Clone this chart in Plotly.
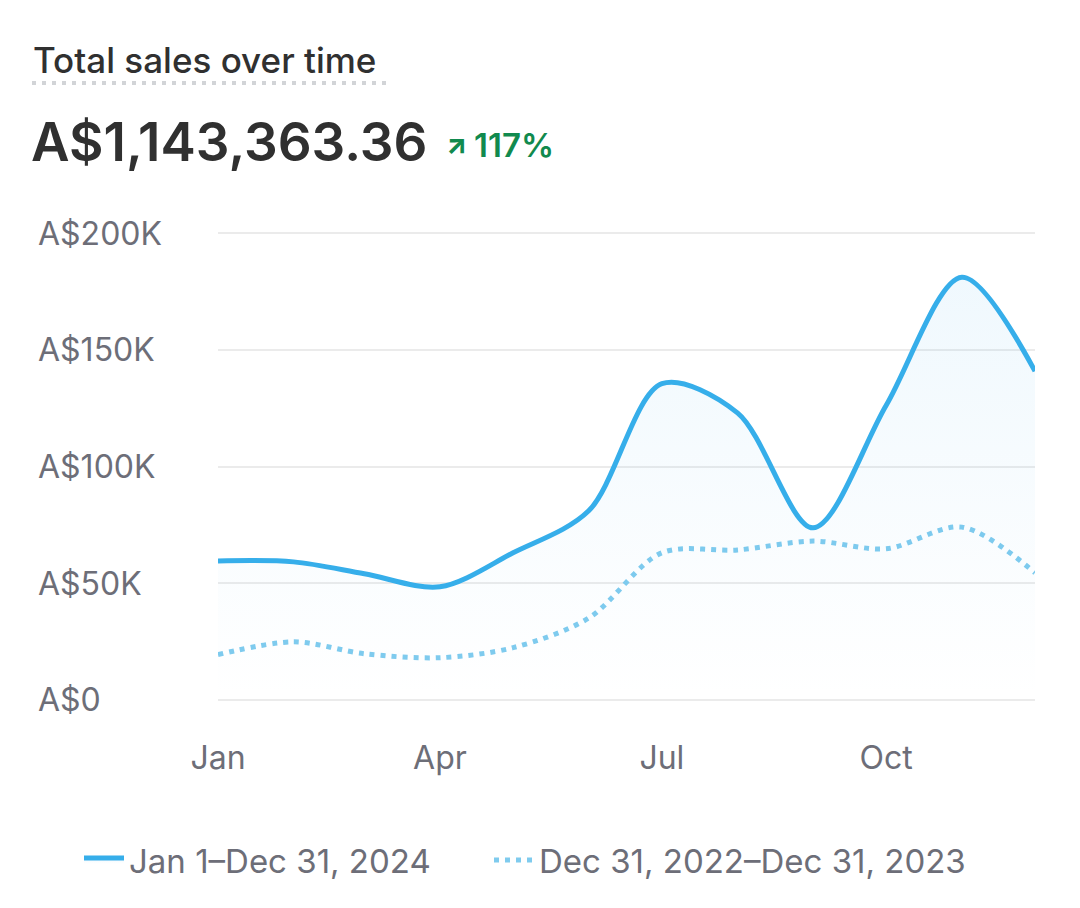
import plotly.graph_objects as go

# ---- data ----
months = ["2024-01-01", "2024-02-01", "2024-03-01", "2024-04-01", "2024-05-01", "2024-06-01",
          "2024-07-01", "2024-08-01", "2024-09-01", "2024-10-01", "2024-11-01", "2024-12-01"]
sales_2024 = [59500, 59100, 54000, 48400, 63000, 81000, 135500, 123000, 73700, 126300, 181200, 140900]
sales_prev = [19300, 24800, 19700, 18000, 22300, 35000, 63000, 64200, 68000, 64700, 74000, 54400]
tick_vals = ["2024-01-01", "2024-04-01", "2024-07-01", "2024-10-01"]
tick_text = ["Jan", "Apr", "Jul", "Oct"]
y_ticks = [0, 50000, 100000, 150000, 200000]
y_text = ["A$0", "A$50K", "A$100K", "A$150K", "A$200K"]
series_names = ["Jan 1–Dec 31, 2024", "Dec 31, 2022–Dec 31, 2023"]
title_text = "Total sales over time"
total_text = "A$1,143,363.36"
change_text = "117%"

W, H = 1080, 908
ML, MR, MT, MB = 218, 45, 231, 206
PW, PH = W - ML - MR, H - MT - MB

def px(x):
    return (x - ML) / PW

def py(y):
    return (H - MB - y) / PH

FONT = "Inter"
GRAY = "#6d6e78"
DARK = "#303030"
GREEN = "#118a4e"

fig = go.Figure()
fig.add_trace(go.Scatter(
    x=months, y=sales_prev, mode="lines", name=series_names[1], legend="legend2",
    line=dict(color="#7fcbee", width=5, dash="5px,6px", shape="spline", smoothing=0.9),
    hoverinfo="skip",
))
fig.add_trace(go.Scatter(
    x=months, y=sales_2024, mode="lines", name=series_names[0], legend="legend",
    line=dict(color="#36aeea", width=5, shape="spline", smoothing=0.9),
    fill="tozeroy",
    fillgradient=dict(type="vertical", start=0, stop=185000,
                      colorscale=[[0, "rgba(60,170,235,0.0)"], [1, "rgba(60,170,235,0.08)"]]),
    hoverinfo="skip",
))

annotations = []
for v, t in zip(y_ticks, y_text):
    annotations.append(dict(text=t, x=px(36), xref="paper", y=v, yref="y",
                            xanchor="left", yanchor="middle", showarrow=False,
                            font=dict(family=FONT, size=32, color=GRAY)))
annotations.append(dict(text=title_text, x=px(31), xref="paper", y=py(60), yref="paper",
                        xanchor="left", yanchor="middle", showarrow=False,
                        font=dict(family=FONT, size=35, color=DARK, weight=500)))
annotations.append(dict(text=total_text, x=px(29), xref="paper", y=py(142), yref="paper",
                        xanchor="left", yanchor="middle", showarrow=False,
                        font=dict(family=FONT, size=53, color=DARK, weight=600)))
annotations.append(dict(text="↗", x=px(444), xref="paper", y=py(144), yref="paper",
                        xanchor="left", yanchor="middle", showarrow=False,
                        font=dict(family=FONT, size=27, color=GREEN, weight=800)))
annotations.append(dict(text=change_text, x=px(472), xref="paper", y=py(145), yref="paper",
                        xanchor="left", yanchor="middle", showarrow=False,
                        font=dict(family=FONT, size=33, color=GREEN, weight=600)))

shapes = [dict(type="line", xref="paper", yref="paper", x0=px(32), x1=px(386), y0=py(83), y1=py(83),
               line=dict(color="#d2d4d7", width=4, dash="4px,6px"))]

legend_common = dict(orientation="h", xref="container", yref="container", y=(H - 860) / H,
                     xanchor="left", yanchor="middle", itemwidth=40,
                     font=dict(family=FONT, size=33, color=GRAY))

fig.update_layout(
    width=W, height=H,
    margin=dict(l=ML, r=MR, t=MT, b=MB, pad=0),
    paper_bgcolor="white", plot_bgcolor="white",
    font=dict(family=FONT, color=GRAY),
    showlegend=True,
    legend=dict(x=79 / W, **legend_common),
    legend2=dict(x=489 / W, **legend_common),
    xaxis=dict(type="date", range=["2024-01-01", "2024-12-01"], tickvals=tick_vals, ticktext=tick_text,
               showgrid=False, zeroline=False, showline=False, ticks="outside", ticklen=28,
               tickcolor="rgba(0,0,0,0)", tickfont=dict(family=FONT, size=32, color=GRAY)),
    yaxis=dict(range=[-1000, 201000], tickvals=y_ticks, showticklabels=False, showgrid=True,
               gridcolor="#ebebeb", gridwidth=2, zeroline=False, showline=False),
    annotations=annotations, shapes=shapes,
)

fig.write_html("out.html")
